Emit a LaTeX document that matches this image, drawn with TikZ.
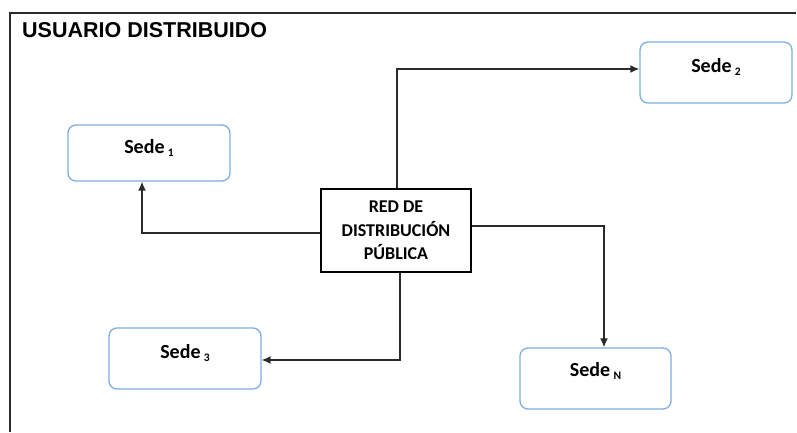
\documentclass[tikz,border=0pt]{standalone}
\usepackage{fontspec}
\setmainfont{Carlito}
\newfontfamily\arialf{Liberation Sans}
\usetikzlibrary{arrows.meta}
\definecolor{sedeblue}{HTML}{7EAEDF}
\definecolor{linegray}{HTML}{2A2A2A}
\begin{document}
\begin{tikzpicture}[x=1pt,y=-1pt,
  sede/.style={draw=sedeblue,line width=1.3pt,rounded corners=8pt,fill=white},
  redbox/.style={draw=black,line width=1.2pt,fill=white},
  conn/.style={draw=linegray,line width=1.4pt,-{Latex[length=9pt,width=8pt]}},
  lbl/.style={font=\bfseries\fontsize{20}{24}\selectfont,inner sep=0pt}]
\useasboundingbox (0,0) rectangle (797,432);
\draw[linegray,line width=1.4pt] (796,13) -- (10,13) -- (10,432);
\node[anchor=west,inner sep=0pt,font=\arialf\bfseries\fontsize{21.5}{24}\selectfont] (title) at (22,30) {USUARIO DISTRIBUIDO};
% boxes
\node[sede,minimum width=162pt,minimum height=56pt] (s1) at (149,153) {};
\node[lbl] at (149,148) {Sede\,\raisebox{-2.5pt}{\fontsize{11.5}{12}\selectfont 1}};
\node[sede,minimum width=152pt,minimum height=61pt] (s2) at (716,72.5) {};
\node[lbl] at (716,67) {Sede\,\raisebox{-2.5pt}{\fontsize{11.5}{12}\selectfont 2}};
\node[sede,minimum width=152pt,minimum height=61pt] (s3) at (185,358.5) {};
\node[lbl] at (185,353) {Sede\,\raisebox{-2.5pt}{\fontsize{11.5}{12}\selectfont 3}};
\node[sede,minimum width=151pt,minimum height=61pt] (sn) at (595.5,378.5) {};
\node[lbl] at (595.5,371) {Sede\,\raisebox{-2.5pt}{\fontsize{11.5}{12}\selectfont N}};
\node[redbox,minimum width=150pt,minimum height=83pt,align=center,font=\bfseries\fontsize{18}{23.5}\selectfont] (red) at (396,230.5) {RED DE\\DISTRIBUCIÓN\\PÚBLICA};
% connectors
\coordinate (c2) at (397,69);
\coordinate (c1) at (142,233);
\coordinate (cn) at (604,226);
\coordinate (c3) at (400,360);
\draw[conn] (red.north -| c2) -- (c2) -- (s2.west |- c2);
\draw[conn] (red.west |- c1) -- (c1) -- (s1.south -| c1);
\draw[conn] (red.east |- cn) -- (cn) -- (sn.north -| cn);
\draw[conn] (red.south -| c3) -- (c3) -- (s3.east |- c3);
\end{tikzpicture}
\end{document}
